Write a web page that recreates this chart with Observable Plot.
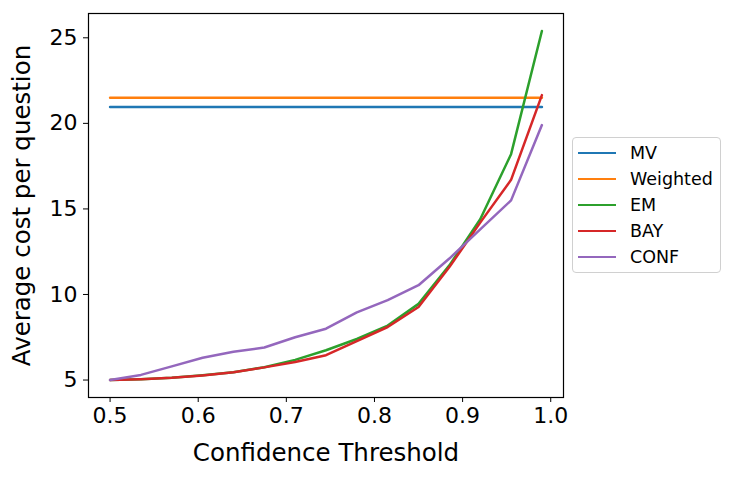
<!DOCTYPE html>
<html>
<head>
<meta charset="utf-8">
<script src="https://cdn.jsdelivr.net/npm/d3@7"></script>
<script src="https://cdn.jsdelivr.net/npm/@observablehq/plot@0.6"></script>
<style>
  html, body { margin: 0; padding: 0; background: #fff; }
  #wrap { position: relative; width: 734px; height: 479px; font-family: "DejaVu Sans", sans-serif; }
  #legend { position: absolute; left: 572px; top: 137px; width: 147px; height: 134px;
    border: 1px solid #d0d0d0; border-radius: 4px; background: #fff; box-sizing: content-box; }
  .item { position: absolute; left: 0; height: 20px; font-size: 17.5px; color: #000; }
  .item .sw { position: absolute; left: 5px; top: 9px; width: 38px; height: 0; border-top: 2.5px solid; }
  .item .lab { position: absolute; left: 57px; top: 0; white-space: nowrap; line-height: 20px; }
</style>
</head>
<body>
<div id="wrap"></div>
<script>
const thresholds = [0.5, 0.535, 0.57, 0.605, 0.64, 0.675, 0.71, 0.745, 0.78, 0.815, 0.85, 0.885, 0.92, 0.955, 0.99];
const mvValue = 20.95;
const weightedValue = 21.5;
const em   = [5.0, 5.05, 5.13, 5.28, 5.46, 5.75, 6.18, 6.74, 7.4, 8.18, 9.45, 11.7, 14.4, 18.2, 25.4];
const bay  = [5.0, 5.05, 5.13, 5.27, 5.45, 5.74, 6.05, 6.45, 7.27, 8.1, 9.27, 11.6, 14.2, 16.7, 21.65];
const conf = [5.0, 5.3, 5.8, 6.3, 6.65, 6.9, 7.5, 8.0, 8.95, 9.67, 10.54, 12.1, 13.8, 15.5, 19.9];
const seriesNames = ["MV", "Weighted", "EM", "BAY", "CONF"];
const seriesColors = ["#1f77b4", "#ff7f0e", "#2ca02c", "#d62728", "#9467bd"];
const xTicks = [0.5, 0.6, 0.7, 0.8, 0.9, 1.0];
const yTicks = [5, 10, 15, 20, 25];

const seriesValues = [
  thresholds.map(() => mvValue),
  thresholds.map(() => weightedValue),
  em, bay, conf
];
const data = [];
seriesNames.forEach((name, s) => {
  thresholds.forEach((t, i) => data.push({series: name, x: t, y: seriesValues[s][i]}));
});

const chart = Plot.plot({
  width: 734,
  height: 479,
  marginLeft: 88,
  marginRight: 171,
  marginTop: 13,
  marginBottom: 82,
  style: {fontFamily: "DejaVu Sans, sans-serif", background: "#fff", color: "#000"},
  x: {domain: [0.4755, 1.0145]},
  y: {domain: [3.98, 26.42]},
  color: {domain: seriesNames, range: seriesColors},
  marks: [
    Plot.axisX({ticks: xTicks, tickFormat: d3.format(".1f"), tickSize: 5, tickPadding: 5,
      fontSize: 22, label: "Confidence Threshold", labelAnchor: "center", labelArrow: "none",
      labelOffset: 63, stroke: "#000"}),
    Plot.axisY({ticks: yTicks, tickSize: 5, tickPadding: 6, fontSize: 22,
      label: "Average cost per question", labelAnchor: "center", labelArrow: "none",
      labelOffset: 76, stroke: "#000"}),
    ...seriesNames.map((name, s) =>
      Plot.line(data.filter(d => d.series === name), {x: "x", y: "y", stroke: seriesColors[s], strokeWidth: 2.5})
    ),
    Plot.frame({stroke: "#000", strokeWidth: 1.2})
  ]
});
chart.querySelectorAll("[aria-label='x-axis label'] text, [aria-label='y-axis label'] text").forEach(t => t.setAttribute("font-size", "24.5"));
document.getElementById("wrap").appendChild(chart);

const legend = document.createElement("div");
legend.id = "legend";
seriesNames.forEach((name, i) => {
  const it = document.createElement("div");
  it.className = "item";
  it.style.top = (5 + i * 26) + "px";
  it.innerHTML = `<div class="sw" style="border-color:${seriesColors[i]}"></div><div class="lab">${name}</div>`;
  legend.appendChild(it);
});
document.getElementById("wrap").appendChild(legend);
</script>
</body>
</html>
